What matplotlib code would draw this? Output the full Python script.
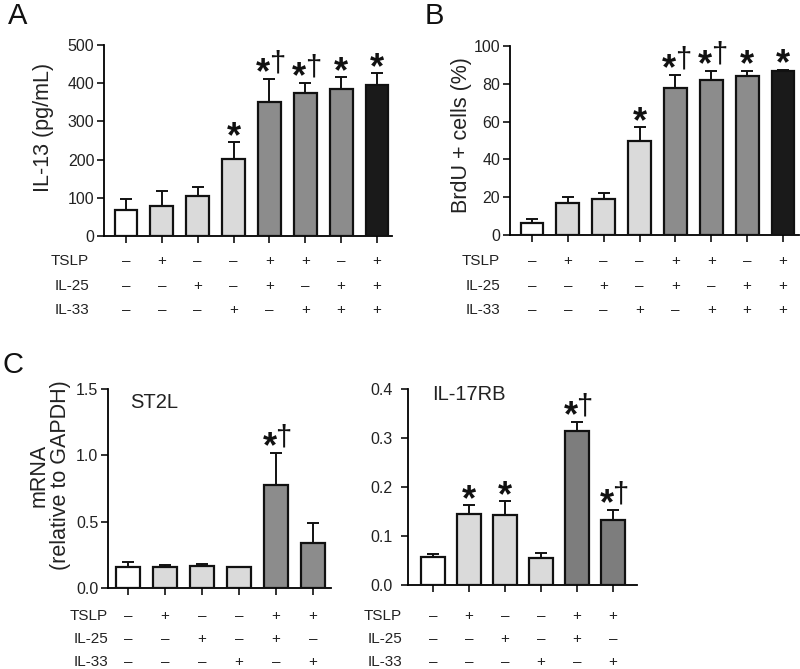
import matplotlib
matplotlib.use("Agg")
import matplotlib.pyplot as plt
from matplotlib.transforms import blended_transform_factory

plt.rcParams['font.family'] = ['Liberation Sans', 'DejaVu Sans']

# ---------------- data ----------------
conds_ab = ["TSLP", "IL-25", "IL-33"]
tslp_ab = ["-", "+", "-", "-", "+", "+", "-", "+"]
il25_ab = ["-", "-", "+", "-", "+", "-", "+", "+"]
il33_ab = ["-", "-", "-", "+", "-", "+", "+", "+"]

il13_vals = [68, 79, 105, 202, 350, 374, 385, 394]
il13_err = [29, 39, 23, 44, 61, 26, 31, 32]
il13_marks = ["", "", "", "*", "*†", "*†", "*", "*"]

brdu_vals = [6.3, 17, 19, 50, 78, 82, 84, 87]
brdu_err = [2.2, 3, 3, 7, 6.5, 5, 3, 0.5]
brdu_marks = ["", "", "", "*", "*†", "*†", "*", "*"]

tslp_c = ["-", "+", "-", "-", "+", "+"]
il25_c = ["-", "-", "+", "-", "+", "-"]
il33_c = ["-", "-", "-", "+", "-", "+"]

st2l_vals = [0.158, 0.155, 0.165, 0.155, 0.776, 0.342]
st2l_err = [0.038, 0.02, 0.015, 0.005, 0.238, 0.148]
st2l_marks = ["", "", "", "", "*†", ""]

il17rb_vals = [0.058, 0.145, 0.142, 0.056, 0.315, 0.133]
il17rb_err = [0.005, 0.018, 0.029, 0.01, 0.018, 0.02]
il17rb_marks = ["", "*", "*", "", "*†", "*†"]

WHITE, LIGHT, GREY, BLACK, DGREY = "#ffffff", "#dadada", "#8c8c8c", "#1a1a1a", "#7d7d7d"
colors_ab = [WHITE, LIGHT, LIGHT, LIGHT, GREY, GREY, GREY, BLACK]
colors_c1 = [WHITE, LIGHT, LIGHT, LIGHT, GREY, GREY]
colors_c2 = [WHITE, LIGHT, LIGHT, LIGHT, DGREY, DGREY]

W, H = 800, 669
fig = plt.figure(figsize=(W / 100, H / 100), dpi=100)


def add_ax(left, right, top, bottom):
    return fig.add_axes([left / W, 1 - bottom / H, (right - left) / W, (bottom - top) / H])


def style(ax, yticks, fmt):
    for s in ["top", "right"]:
        ax.spines[s].set_visible(False)
    for s in ["left", "bottom"]:
        ax.spines[s].set_linewidth(1.3)
    ax.tick_params(axis="both", direction="out", length=5, width=1.3, labelsize=11.5, color="#222222")
    ax.tick_params(axis="y", pad=2)
    ax.tick_params(axis="x", labelbottom=False)
    ax.set_yticks(yticks)
    ax.set_yticklabels([fmt.format(v) for v in yticks], color="#222222")


def draw(ax, vals, errs, colors, marks, width):
    x = list(range(len(vals)))
    ax.bar(x, vals, width=width, color=colors, edgecolor="#111111", linewidth=1.6, zorder=3)
    ax.errorbar(x, vals, yerr=[[0] * len(errs), errs], fmt="none", ecolor="#111111",
                elinewidth=1.4, capsize=4, capthick=1.4, zorder=2)
    ax.set_xticks(x)
    for xi, v, e, m in zip(x, vals, errs, marks):
        top = v + e
        if m == "*":
            ax.annotate("*", xy=(xi, top), xytext=(0, -3.5), textcoords="offset points",
                        ha="center", va="baseline", fontsize=26, fontweight="bold", color="#111111")
        elif m == "*†":
            ax.annotate("*", xy=(xi, top), xytext=(-4.5, -3.0), textcoords="offset points",
                        ha="center", va="baseline", fontsize=26, fontweight="bold", color="#111111")
            ax.annotate("†", xy=(xi, top), xytext=(5.5, 5.5), textcoords="offset points",
                        ha="center", va="baseline", fontsize=21, color="#111111")


def sign_rows(ax, rows, labels, ys, label_right):
    tr = blended_transform_factory(ax.transData, fig.transFigure)
    for row, lab, y in zip(rows, labels, ys):
        fig.text(label_right / W, 1 - y / H, lab, ha="right", va="center", fontsize=11, color="#222222")
        for i, s in enumerate(row):
            ax.text(i, 1 - y / H, "+" if s == "+" else "–", transform=tr, ha="center", va="center",
                    fontsize=11, color="#222222")


# ---------------- Panel A ----------------
axA = add_ax(104, 392, 45, 236)
draw(axA, il13_vals, il13_err, colors_ab, il13_marks, 0.64)
axA.set_ylim(0, 500)
axA.set_xlim(-0.613, 7.418)
style(axA, [0, 100, 200, 300, 400, 500], "{:d}")
sign_rows(axA, [tslp_ab, il25_ab, il33_ab], conds_ab, [261, 286, 310], 89)
fig.text(43 / W, 1 - 127 / H, "IL-13 (pg/mL)", rotation=90, ha="center", va="center",
         fontsize=15.5, color="#222222")
fig.text(8 / W, 1 - 24 / H, "A", fontsize=21, ha="left", va="baseline", color="#111111")

# ---------------- Panel B ----------------
axB = add_ax(510, 799, 46, 235)
draw(axB, brdu_vals, brdu_err, colors_ab, brdu_marks, 0.64)
axB.set_ylim(0, 100)
axB.set_xlim(-0.613, 7.446)
style(axB, [0, 20, 40, 60, 80, 100], "{:d}")
sign_rows(axB, [tslp_ab, il25_ab, il33_ab], conds_ab, [261, 286, 310], 500)
fig.text(462 / W, 1 - 135 / H, "BrdU + cells (%)", rotation=90, ha="center", va="center",
         fontsize=15.5, color="#222222")
fig.text(425 / W, 1 - 24 / H, "B", fontsize=21, ha="left", va="baseline", color="#111111")

# ---------------- Panel C (ST2L) ----------------
axC1 = add_ax(108, 331, 389, 588)
draw(axC1, st2l_vals, st2l_err, colors_c1, st2l_marks, 0.65)
axC1.set_ylim(0, 1.5)
axC1.set_xlim(-0.54, 5.49)
style(axC1, [0.0, 0.5, 1.0, 1.5], "{:.1f}")
sign_rows(axC1, [tslp_c, il25_c, il33_c], conds_ab, [616, 639, 662], 108)
axC1.text(0.1, 0.98, "ST2L", transform=axC1.transAxes, ha="left", va="top", fontsize=14.5, color="#222222")
fig.text(50 / W, 1 - 475 / H, "mRNA\n(relative to GAPDH)", rotation=90, ha="center", va="center",
         fontsize=15.5, color="#222222", linespacing=1.0, multialignment="center")
fig.text(2 / W, 1 - 373 / H, "C", fontsize=21, ha="left", va="baseline", color="#111111")

# ---------------- Panel C (IL-17RB) ----------------
axC2 = add_ax(408, 637, 389, 585)
draw(axC2, il17rb_vals, il17rb_err, colors_c2, il17rb_marks, 0.67)
axC2.set_ylim(0, 0.4)
axC2.set_xlim(-0.694, 5.667)
style(axC2, [0.0, 0.1, 0.2, 0.3, 0.4], "{:.1f}")
axC2.tick_params(axis="y", pad=6)
sign_rows(axC2, [tslp_c, il25_c, il33_c], conds_ab, [616, 639, 662], 402)
axC2.text(0.105, 1.02, "IL-17RB", transform=axC2.transAxes, ha="left", va="top", fontsize=14.5, color="#222222")

fig.savefig("out.png", dpi=100)
